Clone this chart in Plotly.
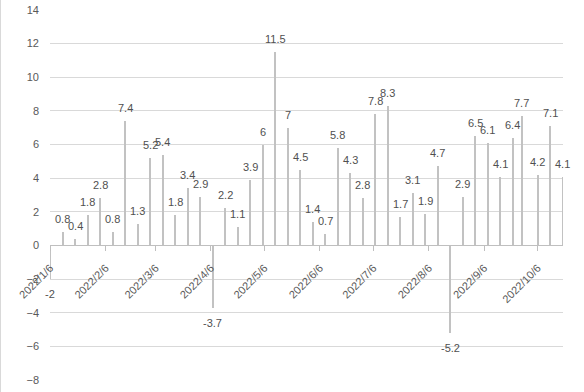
import plotly.graph_objects as go

dates = ["2022-01-06", "2022-01-13", "2022-01-20", "2022-01-27", "2022-02-03", "2022-02-10",
         "2022-02-17", "2022-02-24", "2022-03-03", "2022-03-10", "2022-03-17", "2022-03-24",
         "2022-03-31", "2022-04-07", "2022-04-14", "2022-04-21", "2022-04-28", "2022-05-05",
         "2022-05-12", "2022-05-19", "2022-05-26", "2022-06-02", "2022-06-09", "2022-06-16",
         "2022-06-23", "2022-06-30", "2022-07-07", "2022-07-14", "2022-07-21", "2022-07-28",
         "2022-08-04", "2022-08-11", "2022-08-18", "2022-08-25", "2022-09-01", "2022-09-08",
         "2022-09-15", "2022-09-22", "2022-09-27", "2022-10-06", "2022-10-13", "2022-10-20"]
values = [-2, 0.8, 0.4, 1.8, 2.8, 0.8, 7.4, 1.3, 5.2, 5.4, 1.8, 3.4, 2.9, -3.7, 2.2, 1.1,
          3.9, 6, 11.5, 7, 4.5, 1.4, 0.7, 5.8, 4.3, 2.8, 7.8, 8.3, 1.7, 3.1, 1.9, 4.7, -5.2,
          2.9, 6.5, 6.1, 4.1, 6.4, 7.7, 4.2, 7.1, 4.1]
tick_dates = ["2022-01-06", "2022-02-06", "2022-03-06", "2022-04-06", "2022-05-06",
              "2022-06-06", "2022-07-06", "2022-08-06", "2022-09-06", "2022-10-06"]
tick_labels = ["2022/1/6", "2022/2/6", "2022/3/6", "2022/4/6", "2022/5/6",
               "2022/6/6", "2022/7/6", "2022/8/6", "2022/9/6", "2022/10/6"]

FONT = "Liberation Sans"
DAY_MS = 86400000

fig = go.Figure()
fig.add_trace(go.Bar(
    x=dates, y=values, width=[0.6 * DAY_MS] * len(dates),
    marker=dict(color="#c2c2c2", line=dict(width=0)),
    hoverinfo="x+y", showlegend=False,
))

for d, v in zip(dates, values):
    fig.add_annotation(
        x=d, y=v, xref="x", yref="y", text=f"{v:g}", showarrow=False,
        yanchor="middle", xanchor="center", yshift=13 if v >= 0 else -15,
        font=dict(family=FONT, size=11, color="#505050"),
    )

L, R, T, B = 50, 21, 10, 12
W, H = 584, 392
pw = W - L - R
ph = H - T - B
fig.add_shape(type="line", xref="paper", yref="paper",
              x0=(0.5 - L) / pw, x1=(0.5 - L) / pw, y0=-B / ph, y1=1 + T / ph,
              line=dict(color="#d9d9d9", width=1))

ymin, ymax = -8, 14
fig.update_layout(
    width=W, height=H,
    margin=dict(l=L, r=R, t=T, b=B, autoexpand=False),
    paper_bgcolor="white", plot_bgcolor="white",
    font=dict(family=FONT, size=11, color="#595959"),
    bargap=0,
    xaxis=dict(
        type="date",
        range=["2022-01-05 21:00", "2022-10-20 03:00"],
        anchor="free", position=(0 - ymin) / (ymax - ymin),
        tickmode="array", tickvals=tick_dates, ticktext=tick_labels,
        tickangle=-45, ticks="outside", ticklen=5, tickcolor="#bfbfbf",
        ticklabelstandoff=6,
        showline=True, linecolor="#bfbfbf", linewidth=1,
        showgrid=False, zeroline=False, automargin=False,
        tickfont=dict(family=FONT, size=11, color="#595959"),
    ),
    yaxis=dict(
        range=[ymin, ymax], dtick=2, tick0=0,
        showgrid=True, gridcolor="#d9d9d9", gridwidth=1,
        zeroline=False, showline=False, ticks="", automargin=False,
        ticklabelstandoff=10,
        tickfont=dict(family=FONT, size=11, color="#595959"),
    ),
)

fig.write_html("out.html", config={"displayModeBar": False},
               post_script="document.body.style.margin='0';document.body.style.padding='0';")
